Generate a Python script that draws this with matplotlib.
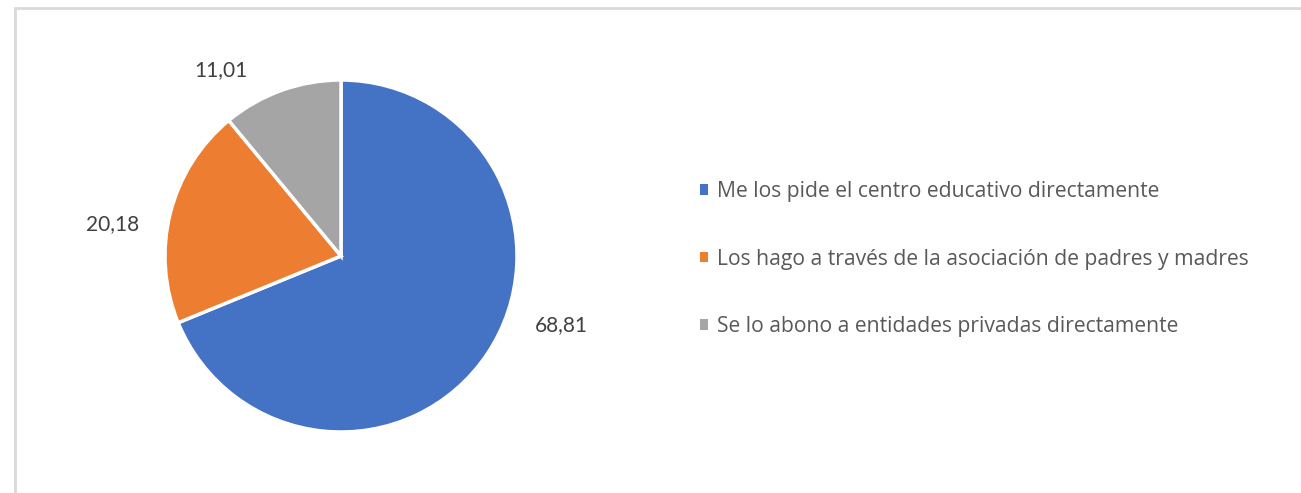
import numpy as np
import matplotlib
matplotlib.use("Agg")
import matplotlib.pyplot as plt
from matplotlib.patches import Rectangle

# data
categories = [
    "Me los pide el centro educativo directamente",
    "Los hago a través de la asociación de padres y madres",
    "Se lo abono a entidades privadas directamente",
]
values = [68.81, 20.18, 11.01]
value_labels = ["68,81", "20,18", "11,01"]
colors = ["#4472C4", "#ED7D31", "#A5A5A5"]

# label placement (angle in degrees, radius as fraction of pie radius)
label_pos = [(-17.4, 1.31), (172.0, 1.31), (122.8, 1.26)]

W, H = 1301, 493
fig = plt.figure(figsize=(W / 100, H / 100), dpi=100)
fig.patch.set_facecolor("white")

# chart frame (only top/left edge visible in the crop)
fig.add_artist(Rectangle((15 / W, -0.05), 1.2, (H - 8) / H + 0.05,
                         transform=fig.transFigure, fill=False,
                         edgecolor="#D9D9D9", linewidth=2))

# pie axes
cx, cy, r = 341, 256, 176
ax = fig.add_axes([(cx - r) / W, (H - cy - r) / H, 2 * r / W, 2 * r / H])
wedges, _ = ax.pie(values, colors=colors, startangle=90, counterclock=False,
                   radius=1, wedgeprops=dict(edgecolor="white", linewidth=2.5))
ax.set_xlim(-1, 1)
ax.set_ylim(-1, 1)
ax.set_aspect("equal")
ax.axis("off")

for txt, (ang, rad) in zip(value_labels, label_pos):
    a = np.deg2rad(ang)
    ax.text(rad * np.cos(a), rad * np.sin(a), txt, ha="center", va="center",
            fontsize=15, color="#404040", family="Lato", clip_on=False)

handles = [Rectangle((0, 0), 1, 1, facecolor=c, edgecolor="none") for c in colors]
leg = fig.legend(handles, categories, loc="center left",
                 bbox_to_anchor=(681 / W, (H - 259) / H),
                 frameon=False, handlelength=0.38, handleheight=0.38,
                 handletextpad=0.42, labelspacing=2.2,
                 prop=dict(family="Open Sans", size=15.2))
for t in leg.get_texts():
    t.set_color("#595959")

fig.savefig("out.png", dpi=100, facecolor="white")
